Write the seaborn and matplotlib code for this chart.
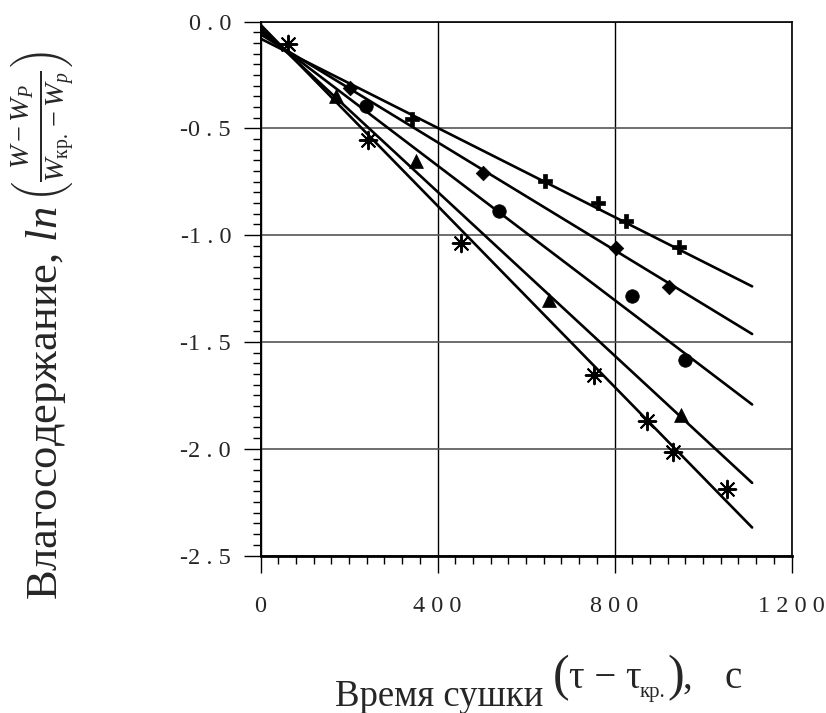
import matplotlib
matplotlib.use("Agg")
import matplotlib.pyplot as plt
import seaborn as sns
from matplotlib.ticker import MultipleLocator, FixedLocator, FixedFormatter

# ---- data ----
cross_x = [343, 643, 763, 825, 945]
cross_y = [-0.458, -0.746, -0.852, -0.936, -1.058]
diamond_x = [202, 502, 803, 924]
diamond_y = [-0.310, -0.707, -1.062, -1.245]
circle_x = [238, 538, 840, 959]
circle_y = [-0.396, -0.886, -1.284, -1.583]
tri_x = [170, 351, 651, 951]
tri_y = [-0.349, -0.653, -1.302, -1.844]
star_x = [62, 242, 453, 753, 874, 932, 1055]
star_y = [-0.107, -0.555, -1.037, -1.654, -1.872, -2.015, -2.187]

# fitted lines (values read at x = 0 and x = 1111)
line_x = [0, 1111]
cross_line = [-0.080, -1.240]
diamond_line = [-0.060, -1.463]
circle_line = [-0.045, -1.793]
tri_line = [-0.030, -2.160]
star_line = [-0.015, -2.369]

x_ticks = [0, 400, 800, 1200]
x_tick_labels = ["0", "4 0 0", "8 0 0", "1 2 0 0"]
y_ticks = [0.0, -0.5, -1.0, -1.5, -2.0, -2.5]
y_tick_labels = ["0 . 0", "-0 . 5", "-1 . 0", "-1 . 5", "-2 . 0", "-2 . 5"]

sns.set_style("ticks")
plt.rcParams["font.family"] = ["Liberation Serif", "DejaVu Serif"]
plt.rcParams["mathtext.fontset"] = "custom"
plt.rcParams["mathtext.rm"] = "Liberation Serif"
plt.rcParams["mathtext.it"] = "Liberation Serif:italic"
plt.rcParams["mathtext.bf"] = "Liberation Serif:bold"

W, H = 826, 713
fig = plt.figure(figsize=(W / 100, H / 100), dpi=100)
ax = fig.add_axes([260.5 / W, 1 - 555.5 / H, 531 / W, 534 / H])


def fx(px):
    return px / W


def fy(py):
    return 1 - py / H


lw = 1.9
for ly in [cross_line, diamond_line, circle_line, tri_line, star_line]:
    sns.lineplot(x=line_x, y=ly, ax=ax, color="black", linewidth=lw, zorder=3)

sns.scatterplot(x=cross_x, y=cross_y, ax=ax, marker="P", s=110, color="black",
                edgecolor="black", linewidth=0.5, zorder=4)
sns.scatterplot(x=diamond_x, y=diamond_y, ax=ax, marker="D", s=55, color="black",
                edgecolor="black", linewidth=0.5, zorder=4)
sns.scatterplot(x=circle_x, y=circle_y, ax=ax, marker="o", s=95, color="black",
                edgecolor="black", linewidth=0.5, zorder=4)
sns.scatterplot(x=tri_x, y=tri_y, ax=ax, marker="^", s=100, color="black",
                edgecolor="black", linewidth=0.5, zorder=4)
sns.scatterplot(x=star_x, y=star_y, ax=ax, marker=(8, 2, 0), s=160, color="black",
                edgecolor="black", linewidth=1.4, zorder=4)
sns.scatterplot(x=star_x, y=star_y, ax=ax, marker="s", s=22, color="black",
                edgecolor="black", linewidth=0.5, zorder=4)

ax.set_xlim(0, 1200)
ax.set_ylim(-2.5, 0.0)
ax.xaxis.set_major_locator(FixedLocator(x_ticks))
ax.xaxis.set_major_formatter(FixedFormatter(x_tick_labels))
ax.yaxis.set_major_locator(FixedLocator(y_ticks))
ax.yaxis.set_major_formatter(FixedFormatter(y_tick_labels))
ax.xaxis.set_minor_locator(MultipleLocator(40))
ax.yaxis.set_minor_locator(MultipleLocator(0.05))

ax.tick_params(which="major", direction="out", length=12.2, width=1.0,
               labelsize=17.5, color="black")
ax.tick_params(which="minor", direction="out", length=5.8, width=1.0, color="black")
ax.tick_params(axis="x", which="major", pad=17)
ax.tick_params(axis="y", which="major", pad=9)

for side in ["left", "right", "top", "bottom"]:
    ax.spines[side].set_visible(True)
    ax.spines[side].set_color("black")
    ax.spines[side].set_linewidth(1.2)
ax.spines["bottom"].set_linewidth(2.0)
ax.spines["left"].set_linewidth(1.4)

ax.grid(True, which="major", axis="x", color="black", linewidth=1.0, zorder=1)
ax.grid(True, which="major", axis="y", color="#555555", linewidth=1.2, zorder=1)
ax.set_axisbelow(True)
ax.set_xlabel("")
ax.set_ylabel("")

# ---- y label ----
fig.text(fx(57), fy(600), r"Влагосодержание, $\mathit{ln}$",
         rotation=90, rotation_mode="anchor", ha="left", va="baseline", fontsize=32)
fig.text(fx(54), fy(202), r"$\left(\frac{W-W_P}{W_{\mathrm{кр.}}-W_p}\right)$",
         rotation=90, rotation_mode="anchor", ha="left", va="baseline", fontsize=29)

# ---- x label ----
fig.text(fx(335), fy(706), "Время сушки", ha="left", va="baseline", fontsize=26.5)
fig.text(fx(553), fy(690), "(", ha="left", va="baseline", fontsize=36)
fig.text(fx(569), fy(688), "τ − τ", ha="left", va="baseline", fontsize=28)
fig.text(fx(640), fy(697), "кр.", ha="left", va="baseline", fontsize=15)
fig.text(fx(667), fy(690), ")", ha="left", va="baseline", fontsize=36)
fig.text(fx(683), fy(688), ",", ha="left", va="baseline", fontsize=28)
fig.text(fx(724), fy(688), "с", ha="left", va="baseline", fontsize=28)

fig.savefig("out.png", dpi=100)
